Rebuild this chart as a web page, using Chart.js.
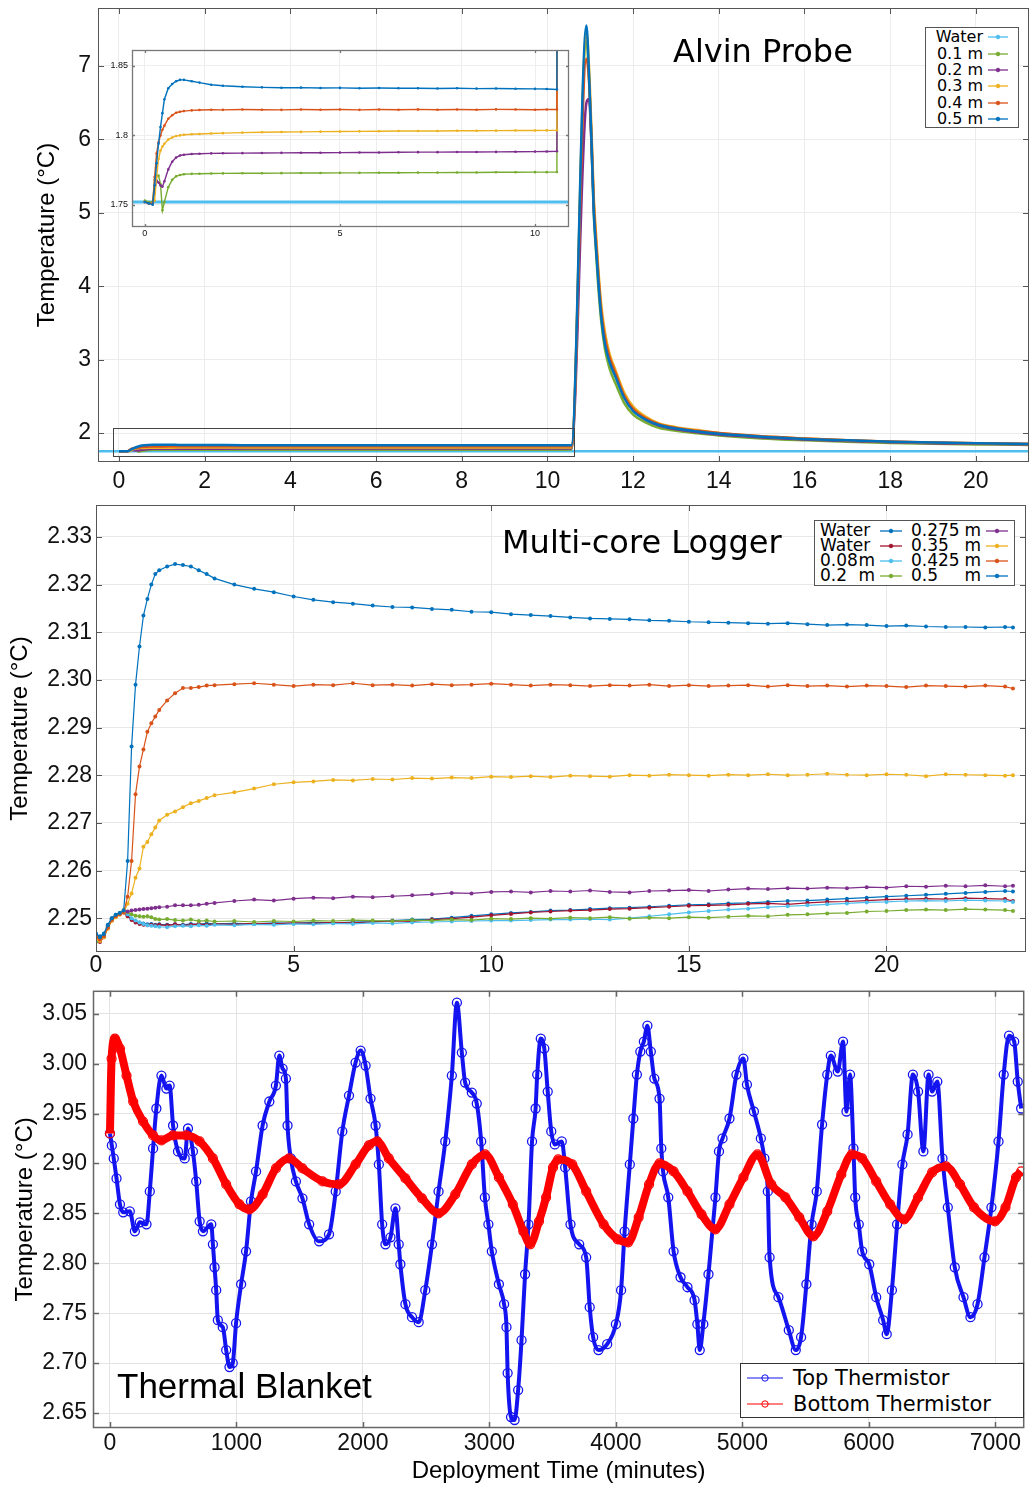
<!DOCTYPE html>
<html>
<head>
<meta charset="utf-8">
<script src="https://cdn.jsdelivr.net/npm/chart.js@4.4.0/dist/chart.umd.min.js"></script>
<style>
body { margin: 0; background: #fff; }
#page { position: relative; width: 1030px; height: 1487px; overflow: hidden; background: #fff; }
canvas { position: absolute; }
.lbl { position: absolute; white-space: nowrap; color: #000; line-height: 1; }
.legend { position: absolute; background: #fff; border: 1px solid #555; color: #000; font-family: "DejaVu Sans", sans-serif; box-sizing: border-box; }
.row { display: flex; align-items: center; }
.row span { line-height: 1; }
</style>
</head>
<body>
<div id="page">
  <canvas id="alvin" width="1030" height="500" style="left:0;top:0"></canvas>
  <canvas id="inset" width="478" height="200" style="left:100px;top:42px"></canvas>
  <canvas id="mcl" width="1030" height="490" style="left:0;top:500px"></canvas>
  <canvas id="blanket" width="1030" height="502" style="left:0;top:985px"></canvas>
</div>
<script>
// ---------- Alvin Probe (minutes, degC) ----------
var alvinLabels = ['Water', '0.1 m', '0.2 m', '0.3 m', '0.4 m', '0.5 m'];
var alvinColors = ['#4DBEEE', '#77AC30', '#7E2F8E', '#EDB120', '#D95319', '#0072BD'];
var alvinXTicks = [0, 2, 4, 6, 8, 10, 12, 14, 16, 18, 20];
var alvinYTicks = [2, 3, 4, 5, 6, 7];
var insetXTicks = [0, 5, 10];
var insetYTicks = [1.75, 1.8, 1.85];

var waterTime = [-0.5, 21.3];
var waterTemp = [1.752, 1.752];

// before the probe was pulled out (also shown in the inset)
var preTime = [0, 0.1, 0.2, 0.25, 0.3, 0.35, 0.4, 0.45, 0.5, 0.6, 0.7, 0.8, 0.9, 1.0, 1.2, 1.4, 1.7, 2.0, 2.5, 3,
  3.5, 4, 4.5, 5, 5.5, 6, 6.5, 7, 7.5, 8, 8.5, 9, 9.5, 10, 10.3, 10.56];
var pre01 = [1.753, 1.752, 1.752, 1.768, 1.771, 1.771, 1.765, 1.746, 1.752, 1.7627, 1.768, 1.7705, 1.7715, 1.772, 1.7723, 1.7724, 1.7725, 1.7726, 1.7727, 1.7727,
  1.7728, 1.7729, 1.7729, 1.773, 1.773, 1.7731, 1.7731, 1.7732, 1.7732, 1.7733, 1.7733, 1.7734, 1.7734, 1.7735, 1.7735, 1.7736];
var pre02 = [1.752, 1.751, 1.751, 1.760, 1.7675, 1.766, 1.764, 1.763, 1.767, 1.7755, 1.781, 1.784, 1.7855, 1.786, 1.7866, 1.7868, 1.787, 1.7871, 1.7872, 1.7873,
  1.7874, 1.7875, 1.7875, 1.7876, 1.7877, 1.7877, 1.7878, 1.7879, 1.7879, 1.788, 1.788, 1.7881, 1.7882, 1.7883, 1.7884, 1.7886];
var pre03 = [1.752, 1.751, 1.751, 1.753, 1.770, 1.783, 1.789, 1.792, 1.794, 1.797, 1.7985, 1.7995, 1.800, 1.8005, 1.8008, 1.801, 1.8013, 1.8016, 1.802, 1.8022,
  1.8024, 1.8025, 1.8027, 1.8028, 1.8029, 1.803, 1.8031, 1.8031, 1.8032, 1.8033, 1.8033, 1.8034, 1.8035, 1.8035, 1.8036, 1.8037];
var pre04 = [1.752, 1.751, 1.751, 1.770, 1.787, 1.795, 1.800, 1.804, 1.807, 1.812, 1.8145, 1.8163, 1.817, 1.8175, 1.818, 1.8183, 1.8185, 1.8184, 1.8186, 1.8185,
  1.8184, 1.8186, 1.8185, 1.8186, 1.8184, 1.8186, 1.8185, 1.8187, 1.8185, 1.8186, 1.8185, 1.8187, 1.8186, 1.8185, 1.8186, 1.8186];
var pre05 = [1.752, 1.751, 1.750, 1.764, 1.780, 1.794, 1.806, 1.816, 1.826, 1.834, 1.837, 1.839, 1.840, 1.840, 1.839, 1.838, 1.8365, 1.8357, 1.835, 1.8346,
  1.8343, 1.8344, 1.8341, 1.8342, 1.834, 1.8341, 1.8339, 1.834, 1.8338, 1.8339, 1.8337, 1.8338, 1.8336, 1.8335, 1.8334, 1.833];

// frictional heating spike and decay
var spikeTime = [10.91, 10.97, 11.03, 11.08, 11.13, 11.18, 11.25, 11.34, 11.45, 11.6, 11.8, 12.0, 12.3, 12.6, 13, 13.5,
  14, 15, 16, 17, 18, 19, 20, 21, 21.3];
var spike01 = [7.35, 6.85, 5.9, 5.0, 4.5, 4.05, 3.55, 3.15, 2.88, 2.66, 2.4, 2.25, 2.14, 2.07, 2.03, 1.995,
  1.965, 1.925, 1.9, 1.88, 1.865, 1.853, 1.845, 1.84, 1.836];
var spike02 = [6.5, 6.55, 5.9, 5.1, 4.62, 4.2, 3.68, 3.28, 3.0, 2.77, 2.48, 2.31, 2.18, 2.1, 2.05, 2.01,
  1.98, 1.94, 1.91, 1.89, 1.875, 1.862, 1.853, 1.846, 1.843];
var spike03 = [7.45, 7.0, 6.1, 5.25, 4.75, 4.3, 3.78, 3.38, 3.08, 2.84, 2.54, 2.36, 2.22, 2.13, 2.08, 2.04,
  2.0, 1.955, 1.925, 1.9, 1.882, 1.87, 1.86, 1.852, 1.85];
var spike04 = [7.1, 6.8, 6.0, 5.15, 4.65, 4.22, 3.7, 3.3, 3.03, 2.8, 2.5, 2.33, 2.2, 2.12, 2.07, 2.03,
  2.0, 1.955, 1.925, 1.9, 1.885, 1.872, 1.862, 1.855, 1.852];
var spike05 = [7.55, 6.9, 5.95, 5.04, 4.55, 4.13, 3.62, 3.22, 2.97, 2.75, 2.47, 2.3, 2.18, 2.11, 2.06, 2.02,
  1.99, 1.95, 1.92, 1.9, 1.88, 1.87, 1.86, 1.855, 1.85];

// ---------- Multi-core Logger ----------
var mclLabels = ['Water', 'Water', '0.08 m', '0.2 m', '0.275 m', '0.35 m', '0.425 m', '0.5 m'];
var mclColors = ['#0072BD', '#A2142F', '#4DBEEE', '#77AC30', '#7E2F8E', '#EDB120', '#D95319', '#0072BD'];
var mclXTicks = [0, 5, 10, 15, 20];
var mclYTicks = [2.25, 2.26, 2.27, 2.28, 2.29, 2.30, 2.31, 2.32, 2.33];
var mclTime = [0, 0.1, 0.2, 0.3, 0.4, 0.5, 0.6, 0.7, 0.8, 0.9, 1.0, 1.1, 1.2, 1.3, 1.4, 1.5, 1.6,
  1.8, 2.0, 2.2, 2.4, 2.6, 2.8, 3.0,
  3.5, 4.0, 4.5, 5.0, 5.5, 6.0, 6.5, 7.0, 7.5, 8.0, 8.5, 9.0, 9.5, 10.0, 10.5, 11.0, 11.5, 12.0, 12.5, 13.0,
  13.5, 14.0, 14.5, 15.0, 15.5, 16.0, 16.5, 17.0, 17.5, 18.0, 18.5, 19.0, 19.5, 20.0, 20.5, 21.0, 21.5, 22.0, 22.5, 23.0,
  23.2];
var waterBlue = [2.2466, 2.2462, 2.2468, 2.2486, 2.2500, 2.2507, 2.2510, 2.2513, 2.2506, 2.2498, 2.2494, 2.2491, 2.2489, 2.2487, 2.2488, 2.2486, 2.2487,
  2.2486, 2.2487, 2.2486, 2.2488, 2.2487, 2.2489, 2.2488,
  2.2489, 2.2488, 2.2490, 2.2489, 2.2491, 2.2490, 2.2492, 2.2493, 2.2495, 2.2497, 2.2498, 2.2501, 2.2505, 2.2508, 2.2511, 2.2513, 2.2516, 2.2517, 2.2519, 2.2521,
  2.2522, 2.2524, 2.2526, 2.2528, 2.2529, 2.2531, 2.2532, 2.2534, 2.2536, 2.2537, 2.2539, 2.2541, 2.2543, 2.2545, 2.2547, 2.2549, 2.2551, 2.2553, 2.2555, 2.2557,
  2.2556];
var waterRed = [2.2455, 2.2450, 2.2460, 2.2480, 2.2496, 2.2504, 2.2509, 2.2512, 2.2504, 2.2496, 2.2491, 2.2488, 2.2486, 2.2485, 2.2486, 2.2485, 2.2486,
  2.2485, 2.2487, 2.2485, 2.2486, 2.2488, 2.2486, 2.2488,
  2.2487, 2.2489, 2.2488, 2.2490, 2.2489, 2.2491, 2.2490, 2.2492, 2.2494, 2.2493, 2.2497, 2.2499, 2.2502, 2.2506, 2.2509, 2.2512, 2.2514, 2.2516, 2.2517, 2.2519,
  2.2520, 2.2522, 2.2524, 2.2526, 2.2527, 2.2528, 2.2530, 2.2531, 2.2529, 2.2532, 2.2534, 2.2535, 2.2537, 2.2539, 2.2540, 2.2541, 2.2540, 2.2542, 2.2541, 2.2540,
  2.2536];
var core008 = [2.2452, 2.2456, 2.2464, 2.2482, 2.2498, 2.2505, 2.2510, 2.2514, 2.2508, 2.2500, 2.2495, 2.2491, 2.2488, 2.2485, 2.2484, 2.2483, 2.2482,
  2.2481, 2.2483, 2.2484, 2.2483, 2.2485, 2.2484, 2.2486,
  2.2485, 2.2487, 2.2486, 2.2488, 2.2487, 2.2489, 2.2488, 2.2490, 2.2489, 2.2491, 2.2492, 2.2493, 2.2494, 2.2495, 2.2495, 2.2496, 2.2497, 2.2497, 2.2498, 2.2497,
  2.2500, 2.2504, 2.2508, 2.2512, 2.2515, 2.2518, 2.2520, 2.2523, 2.2525, 2.2527, 2.2529, 2.2531, 2.2533, 2.2534, 2.2536, 2.2537, 2.2536, 2.2538, 2.2537, 2.2536,
  2.2534];
var core020 = [2.2450, 2.2458, 2.2465, 2.2483, 2.2498, 2.2506, 2.2511, 2.2517, 2.2513, 2.2508, 2.2505, 2.2504, 2.2503, 2.2504, 2.2502, 2.2498, 2.2497,
  2.2498, 2.2496, 2.2495, 2.2497, 2.2494, 2.2495, 2.2493,
  2.2494, 2.2492, 2.2494, 2.2493, 2.2495, 2.2494, 2.2496, 2.2495, 2.2494, 2.2496, 2.2495, 2.2497, 2.2496, 2.2499, 2.2498, 2.2500, 2.2499, 2.2501, 2.2500, 2.2502,
  2.2499, 2.2501, 2.2500, 2.2502, 2.2501, 2.2503, 2.2505, 2.2504, 2.2507, 2.2508, 2.2510, 2.2511, 2.2514, 2.2515, 2.2517, 2.2518, 2.2517, 2.2519, 2.2518, 2.2517,
  2.2515];
var core0275 = [2.2458, 2.2455, 2.2463, 2.2481, 2.2497, 2.2505, 2.2509, 2.2514, 2.2514, 2.2516, 2.2517, 2.2518, 2.2519, 2.2520, 2.2521, 2.2522, 2.2523,
  2.2524, 2.2527, 2.2527, 2.2527, 2.2528, 2.2530, 2.2532,
  2.2536, 2.2539, 2.2537, 2.2541, 2.2543, 2.2542, 2.2545, 2.2544, 2.2546, 2.2548, 2.2550, 2.2553, 2.2552, 2.2555, 2.2556, 2.2554, 2.2557, 2.2556, 2.2558, 2.2555,
  2.2554, 2.2557, 2.2558, 2.2559, 2.2557, 2.2560, 2.2562, 2.2561, 2.2563, 2.2562, 2.2564, 2.2563, 2.2565, 2.2564, 2.2567, 2.2566, 2.2568, 2.2567, 2.2569, 2.2567,
  2.2568];
var core035 = [2.2455, 2.2452, 2.2460, 2.2478, 2.2494, 2.2502, 2.2507, 2.2512, 2.2530, 2.2552, 2.2585, 2.2604, 2.2650, 2.2660, 2.2676, 2.2690, 2.2705,
  2.2717, 2.2724, 2.2733, 2.2741, 2.2746, 2.2752, 2.2758,
  2.2764, 2.2772, 2.2781, 2.2785, 2.2787, 2.2790, 2.2789, 2.2792, 2.2791, 2.2794, 2.2793, 2.2795, 2.2794, 2.2797, 2.2796, 2.2798, 2.2796, 2.2799, 2.2798, 2.2797,
  2.2800, 2.2799, 2.2801, 2.2800, 2.2799, 2.2801, 2.2800, 2.2802, 2.2800, 2.2801, 2.2803, 2.2801, 2.2800, 2.2802, 2.2801, 2.2798, 2.2802, 2.2801, 2.2800, 2.2799,
  2.2800];
var core0425 = [2.2462, 2.2455, 2.2462, 2.2480, 2.2496, 2.2504, 2.2508, 2.2512, 2.2545, 2.2620, 2.2760, 2.2818, 2.2854, 2.2891, 2.2909, 2.2923, 2.2937,
  2.2957, 2.2972, 2.2983, 2.2983, 2.2985, 2.2988, 2.2989,
  2.2991, 2.2993, 2.2990, 2.2987, 2.2990, 2.2989, 2.2993, 2.2989, 2.2990, 2.2988, 2.2991, 2.2989, 2.2990, 2.2992, 2.2990, 2.2988, 2.2990, 2.2989, 2.2987, 2.2989,
  2.2988, 2.2990, 2.2987, 2.2989, 2.2987, 2.2988, 2.2989, 2.2986, 2.2989, 2.2987, 2.2988, 2.2986, 2.2988, 2.2987, 2.2985, 2.2988, 2.2987, 2.2986, 2.2988, 2.2986,
  2.2982];
var core05 = [2.2468, 2.2460, 2.2467, 2.2485, 2.2500, 2.2507, 2.2511, 2.2516, 2.2620, 2.2860, 2.2990, 2.3070, 2.3135, 2.3170, 2.3200, 2.3222, 2.3230,
  2.3238, 2.3243, 2.3241, 2.3238, 2.3230, 2.3222, 2.3213,
  2.3200, 2.3191, 2.3184, 2.3175, 2.3168, 2.3163, 2.3160, 2.3156, 2.3153, 2.3152, 2.3149, 2.3147, 2.3143, 2.3142, 2.3138, 2.3136, 2.3134, 2.3131, 2.3129, 2.3128,
  2.3127, 2.3125, 2.3124, 2.3122, 2.3121, 2.3120, 2.3119, 2.3118, 2.3119, 2.3117, 2.3115, 2.3116, 2.3115, 2.3113, 2.3114, 2.3112, 2.3111, 2.3111, 2.3110, 2.3111,
  2.3110];

// ---------- Thermal Blanket (deployment minutes, degC) ----------
var blanketLabels = ['Top Thermistor', 'Bottom Thermistor'];
var blanketColors = ['#1414f0', '#ff0000'];
var blanketXTicks = [0, 1000, 2000, 3000, 4000, 5000, 6000, 7000];
var blanketYTicks = [2.65, 2.70, 2.75, 2.80, 2.85, 2.90, 2.95, 3.00, 3.05];
var topTime = [0, 15, 30, 52, 79, 105, 157, 197, 236, 289, 315, 341, 367, 407, 446, 472, 499, 538, 591, 617,
  656, 682, 709, 735, 801, 814, 827, 840, 853, 892, 919, 945, 971, 997, 1037, 1076, 1115, 1155, 1207, 1260,
  1312, 1339, 1365, 1391, 1404, 1430, 1470, 1522, 1575, 1654, 1732, 1785, 1837, 1890, 1942, 1982, 2021, 2060, 2100, 2126,
  2152, 2178, 2218, 2257, 2283, 2296, 2336, 2388, 2441, 2493, 2546, 2598, 2651, 2703, 2743, 2782, 2808, 2861, 2900, 2935,
  2964, 2992, 3019, 3075, 3116, 3135, 3144, 3171, 3199, 3227, 3254, 3282, 3309, 3337, 3365, 3378, 3406, 3434, 3461, 3489,
  3517, 3572, 3599, 3641, 3710, 3765, 3793, 3820, 3862, 3931, 4000, 4041, 4069, 4110, 4138, 4166, 4193, 4221, 4249, 4276,
  4304, 4345, 4359, 4373, 4414, 4456, 4511, 4566, 4622, 4644, 4663, 4691, 4732, 4787, 4815, 4843, 4898, 4953, 5008, 5036,
  5091, 5146, 5174, 5201, 5215, 5285, 5367, 5422, 5464, 5506, 5547, 5588, 5630, 5671, 5699, 5754, 5796, 5823, 5851, 5878,
  5892, 5920, 5947, 6003, 6058, 6113, 6141, 6182, 6223, 6265, 6306, 6348, 6389, 6431, 6472, 6500, 6541, 6582, 6624, 6679,
  6748, 6803, 6859, 6914, 6969, 7025, 7066, 7108, 7149, 7177, 7204];
var topTemp = [2.930, 2.918, 2.905, 2.885, 2.859, 2.851, 2.852, 2.832, 2.841, 2.839, 2.872, 2.915, 2.955, 2.988, 2.975, 2.978, 2.938, 2.912, 2.905, 2.935,
  2.912, 2.882, 2.842, 2.832, 2.839, 2.819, 2.796, 2.773, 2.743, 2.736, 2.713, 2.696, 2.700, 2.740, 2.779, 2.812, 2.862, 2.892, 2.938, 2.962,
  2.978, 3.008, 2.995, 2.985, 2.938, 2.905, 2.882, 2.865, 2.839, 2.822, 2.829, 2.872, 2.932, 2.968, 3.001, 3.013, 2.998, 2.965, 2.938, 2.899,
  2.839, 2.819, 2.826, 2.855, 2.819, 2.799, 2.759, 2.746, 2.741, 2.773, 2.819, 2.872, 2.922, 2.988, 3.061, 3.011, 2.981, 2.971, 2.960, 2.922,
  2.866, 2.839, 2.812, 2.779, 2.759, 2.736, 2.690, 2.646, 2.643, 2.673, 2.723, 2.789, 2.839, 2.922, 2.955, 2.989, 3.025, 3.015, 2.972, 2.932,
  2.919, 2.922, 2.896, 2.839, 2.819, 2.806, 2.756, 2.726, 2.713, 2.719, 2.739, 2.773, 2.832, 2.899, 2.945, 2.989, 3.012, 3.022, 3.038, 3.012,
  2.985, 2.965, 2.915, 2.892, 2.866, 2.812, 2.786, 2.776, 2.763, 2.739, 2.713, 2.739, 2.789, 2.866, 2.912, 2.925, 2.945, 2.989, 3.005, 2.979,
  2.952, 2.925, 2.905, 2.872, 2.806, 2.766, 2.733, 2.713, 2.726, 2.779, 2.839, 2.872, 2.939, 2.989, 3.008, 2.992, 3.022, 2.952, 2.989, 2.915,
  2.866, 2.839, 2.812, 2.799, 2.766, 2.743, 2.729, 2.773, 2.839, 2.899, 2.929, 2.989, 2.972, 2.912, 2.989, 2.972, 2.982, 2.905, 2.856, 2.796,
  2.766, 2.746, 2.759, 2.806, 2.856, 2.922, 2.989, 3.028, 3.022, 2.982, 2.955];
var bottomTime = [0, 13, 39, 79, 131, 184, 262, 341, 407, 499, 604, 709, 814, 919, 1024, 1102, 1207, 1312, 1417, 1522,
  1680, 1811, 1942, 2047, 2113, 2205, 2336, 2467, 2598, 2730, 2861, 2966, 3075, 3185, 3268, 3323, 3392, 3448, 3503, 3544,
  3655, 3765, 3903, 4014, 4097, 4180, 4262, 4345, 4456, 4566, 4677, 4787, 4898, 5008, 5119, 5229, 5340, 5450, 5561, 5671,
  5782, 5865, 5947, 6058, 6168, 6279, 6389, 6500, 6610, 6721, 6831, 6997, 7080, 7163, 7204];
var bottomTemp = [2.930, 3.005, 3.025, 3.015, 2.988, 2.962, 2.942, 2.928, 2.923, 2.928, 2.928, 2.922, 2.905, 2.879, 2.859, 2.854, 2.869, 2.895, 2.905, 2.895,
  2.882, 2.879, 2.899, 2.918, 2.922, 2.905, 2.885, 2.865, 2.850, 2.869, 2.899, 2.909, 2.886, 2.859, 2.832, 2.819, 2.842, 2.866, 2.896, 2.904,
  2.899, 2.872, 2.839, 2.824, 2.821, 2.846, 2.879, 2.900, 2.892, 2.872, 2.849, 2.834, 2.859, 2.886, 2.909, 2.879, 2.866, 2.846, 2.827, 2.852,
  2.889, 2.909, 2.905, 2.882, 2.859, 2.844, 2.866, 2.891, 2.897, 2.879, 2.856, 2.842, 2.856, 2.886, 2.892];

Chart.defaults.font.family = '"Liberation Sans", Arial, sans-serif';
Chart.defaults.color = '#000';
Chart.defaults.animation = false;

function pts(xs, ys) {
  return xs.map(function(x, i) { return {x: x, y: ys[i]}; });
}

function fixTicks(list) {
  return function(scale) {
    scale.ticks = list.map(function(v) { return {value: v}; });
  };
}

// MATLAB style box with inward ticks
var framePlugin = {
  id: 'frame',
  afterDatasetsDraw: function(chart, args, opts) {
    var a = chart.chartArea, ctx = chart.ctx;
    var len = opts.tick || 6;
    ctx.save();
    ctx.strokeStyle = opts.color || '#555';
    ctx.lineWidth = opts.width || 1;
    ctx.beginPath();
    chart.scales.x.ticks.forEach(function(t) {
      var p = Math.round(chart.scales.x.getPixelForValue(t.value)) + 0.5;
      ctx.moveTo(p, a.bottom); ctx.lineTo(p, a.bottom - len);
      ctx.moveTo(p, a.top); ctx.lineTo(p, a.top + len);
    });
    chart.scales.y.ticks.forEach(function(t) {
      var p = Math.round(chart.scales.y.getPixelForValue(t.value)) + 0.5;
      ctx.moveTo(a.left, p); ctx.lineTo(a.left + len, p);
      ctx.moveTo(a.right, p); ctx.lineTo(a.right - len, p);
    });
    ctx.stroke();
    ctx.strokeRect(a.left + 0.5, a.top + 0.5, a.right - a.left - 1, a.bottom - a.top - 1);
    ctx.restore();
  }
};

// rectangle showing the part that is magnified in the inset
var zoomBoxPlugin = {
  id: 'zoomBox',
  afterDatasetsDraw: function(chart, args, opts) {
    var x = chart.scales.x, y = chart.scales.y, ctx = chart.ctx;
    var x0 = x.getPixelForValue(opts.x0), x1 = x.getPixelForValue(opts.x1);
    var y0 = y.getPixelForValue(opts.y0), y1 = y.getPixelForValue(opts.y1);
    ctx.save();
    ctx.strokeStyle = '#444';
    ctx.lineWidth = 1;
    ctx.strokeRect(Math.round(x0) + 0.5, Math.round(y1) + 0.5, Math.round(x1 - x0), Math.round(y0 - y1));
    ctx.restore();
  }
};

function axis(min, max, list, fmt, size, pad, fit, isX, gridColor) {
  var s = {
    type: 'linear', min: min, max: max,
    afterBuildTicks: fixTicks(list),
    grid: {color: gridColor, drawTicks: false},
    border: {display: false},
    ticks: {font: {size: size}, padding: pad, color: '#111', autoSkip: false, maxRotation: 0, callback: fmt}
  };
  s.afterFit = function(sc) {
    if (isX) sc.height = fit; else sc.width = fit;
    // keep the plot box exactly where it is, labels may hang over
    sc.paddingTop = 0; sc.paddingBottom = 0; sc.paddingLeft = 0; sc.paddingRight = 0;
  };
  return s;
}

function str(v) { return String(v); }
function two(v) { return v.toFixed(2); }

// ---- panel 1: Alvin Probe ----
var alvinPre = [pre01, pre02, pre03, pre04, pre05];
var alvinSpike = [spike01, spike02, spike03, spike04, spike05];
var alvinTime = preTime.concat(spikeTime);
var mainSets = [], insetSets = [];
mainSets.push({label: alvinLabels[0], data: pts(waterTime, waterTemp), borderColor: alvinColors[0], borderWidth: 2.5, pointRadius: 0});
insetSets.push({label: alvinLabels[0], data: pts(waterTime, waterTemp), borderColor: alvinColors[0], borderWidth: 3, pointRadius: 0});
for (var i = 1; i < alvinLabels.length; i++) {
  var d = pts(alvinTime, alvinPre[i - 1].concat(alvinSpike[i - 1]));
  mainSets.push({label: alvinLabels[i], data: d, borderColor: alvinColors[i], borderWidth: 2.5, pointRadius: 0,
    cubicInterpolationMode: 'monotone'});
  insetSets.push({label: alvinLabels[i], data: d, borderColor: alvinColors[i], backgroundColor: alvinColors[i],
    borderWidth: 1.4, pointRadius: 1.3, pointBorderWidth: 0});
}
mainSets.reverse();
insetSets.reverse();

var yTitle = {display: true, text: 'Temperature (°C)', font: {size: 24}, color: '#000'};

var alvinY = axis(1.605, 7.79, alvinYTicks, str, 23, 7, 98, false, '#ececec');
alvinY.title = Object.assign({}, yTitle, {padding: {top: 33, bottom: 0}});

new Chart(document.getElementById('alvin'), {
  type: 'line',
  data: {datasets: mainSets},
  options: {
    responsive: false,
    layout: {padding: {top: 8, right: 1, left: 0, bottom: 0}},
    scales: {
      x: axis(-0.49, 21.24, alvinXTicks, str, 23, 6, 38, true, '#ececec'),
      y: alvinY
    },
    plugins: {legend: {display: false}, tooltip: {enabled: false},
      frame: {color: '#555', width: 1, tick: 6},
      zoomBox: {x0: -0.14, x1: 10.62, y0: 1.69, y1: 2.07}}
  },
  plugins: [framePlugin, zoomBoxPlugin]
});

new Chart(document.getElementById('inset'), {
  type: 'line',
  data: {datasets: insetSets},
  options: {
    responsive: false,
    layout: {padding: {top: 8, right: 9, left: 0, bottom: 0}},
    scales: {
      x: axis(-0.33, 10.87, insetXTicks, str, 9, 1, 15, true, '#eeeeee'),
      y: axis(1.734, 1.8615, insetYTicks, str, 9, 4, 32, false, '#eeeeee')
    },
    plugins: {legend: {display: false}, tooltip: {enabled: false},
      frame: {color: '#777', width: 1.3, tick: 3}}
  },
  plugins: [framePlugin]
});

// ---- panel 2: Multi-core Logger ----
var mclSeries = [waterBlue, waterRed, core008, core020, core0275, core035, core0425, core05];
var mclSets = mclSeries.map(function(s, i) {
  return {label: mclLabels[i], data: pts(mclTime, s), borderColor: mclColors[i], backgroundColor: mclColors[i],
    borderWidth: 1.2, pointRadius: 2, pointBorderWidth: 0};
}).reverse();

var mclY = axis(2.2429, 2.3367, mclYTicks, two, 23, 4, 96, false, '#e8e8e8');
mclY.title = Object.assign({}, yTitle, {padding: {top: 6, bottom: 0}});

new Chart(document.getElementById('mcl'), {
  type: 'line',
  data: {datasets: mclSets},
  options: {
    responsive: false,
    layout: {padding: {top: 5, right: 1, left: 0, bottom: 0}},
    scales: {
      x: axis(0, 23.53, mclXTicks, str, 23, 0, 38, true, '#e8e8e8'),
      y: mclY
    },
    plugins: {legend: {display: false}, tooltip: {enabled: false},
      frame: {color: '#555', width: 1, tick: 6}}
  },
  plugins: [framePlugin]
});

// ---- panel 3: Thermal Blanket ----
var blanketX = axis(-134, 7228, blanketXTicks, str, 23, 2, 59, true, '#e3e3e3');
blanketX.title = {display: true, text: 'Deployment Time (minutes)', font: {size: 24}, color: '#000', padding: {top: 0, bottom: 1}};
var blanketY = axis(2.635, 3.0729, blanketYTicks, two, 23, 6, 93, false, '#e3e3e3');
blanketY.title = Object.assign({}, yTitle, {padding: {top: 11, bottom: 0}});

new Chart(document.getElementById('blanket'), {
  type: 'line',
  data: {datasets: [
    {label: blanketLabels[0], data: pts(topTime, topTemp), borderColor: blanketColors[0], borderWidth: 4,
      cubicInterpolationMode: 'monotone', pointRadius: 4.5, pointBorderWidth: 1.3,
      pointBorderColor: blanketColors[0], pointBackgroundColor: 'rgba(0,0,0,0)', order: 1},
    {label: blanketLabels[1], data: pts(bottomTime, bottomTemp), borderColor: blanketColors[1], borderWidth: 8,
      cubicInterpolationMode: 'monotone', pointRadius: 4.5, pointBorderWidth: 1.2,
      pointBorderColor: blanketColors[1], pointBackgroundColor: 'rgba(0,0,0,0)', order: 0}
  ]},
  options: {
    responsive: false,
    layout: {padding: {top: 3, right: 2, left: 0, bottom: 0}},
    scales: {x: blanketX, y: blanketY},
    plugins: {legend: {display: false}, tooltip: {enabled: false},
      frame: {color: '#666', width: 1.5, tick: 6}}
  },
  plugins: [framePlugin]
});

// ---- titles and legends (html) ----
var page = document.getElementById('page');

function addText(txt, left, top, size, family) {
  var el = document.createElement('div');
  el.className = 'lbl';
  el.textContent = txt;
  el.style.left = left + 'px';
  el.style.top = top + 'px';
  el.style.fontSize = size + 'px';
  el.style.fontFamily = family;
  page.appendChild(el);
}

function sample(color, w, r, lw, ring) {
  return '<svg width="' + w + '" height="12" style="display:block">' +
    '<line x1="1" y1="6" x2="' + (w - 1) + '" y2="6" stroke="' + color + '" stroke-width="' + lw + '"/>' +
    '<circle cx="' + (w / 2) + '" cy="6" r="' + r + '" fill="' + (ring ? 'none' : color) + '" stroke="' + color + '" stroke-width="1"/></svg>';
}

function splitLabel(lab) {
  var k = lab.lastIndexOf(' ');
  if (k < 0) return '<span>' + lab + '</span>';
  return '<span>' + lab.slice(0, k) + '</span><span>' + lab.slice(k + 1) + '</span>';
}

addText('Alvin Probe', 673, 35, 32, '"DejaVu Sans"');
addText('Multi-core Logger', 502, 526, 32, '"DejaVu Sans"');
addText('Thermal Blanket', 117, 1368, 35, '"Liberation Sans"');

// legend 1
var lg1 = document.createElement('div');
lg1.className = 'legend';
lg1.style.cssText = 'left:925px;top:27px;width:94px;height:101px;font-size:16px;padding-top:1px;';
alvinLabels.forEach(function(lab, i) {
  lg1.innerHTML += '<div class="row" style="height:16.4px"><span style="width:57px;text-align:right">' + lab +
    '</span><span style="width:4px"></span>' + sample(alvinColors[i], 22, 1.8, 1.3, false) + '</div>';
});
page.appendChild(lg1);

// legend 2 (two columns, column-major)
var lg2 = document.createElement('div');
lg2.className = 'legend';
lg2.style.cssText = 'left:814px;top:520px;width:201px;height:66px;font-size:17px;padding-top:2px;' +
  'display:grid;grid-template-columns:96px 100px;grid-template-rows:repeat(4,15px);grid-auto-flow:column;';
mclLabels.forEach(function(lab, i) {
  var w = i < 4 ? 55 : 70;
  var pl = i < 4 ? 5 : 0;
  lg2.innerHTML += '<div class="row" style="padding-left:' + pl + 'px"><div style="display:flex;justify-content:space-between;width:' + w + 'px">' +
    splitLabel(lab) + '</div><span style="width:4px"></span>' + sample(mclColors[i], 24, 1.8, 1.3, false) + '</div>';
});
page.appendChild(lg2);

// legend 3
var lg3 = document.createElement('div');
lg3.className = 'legend';
lg3.style.cssText = 'left:740px;top:1363px;width:284px;height:55px;font-size:21px;padding-top:1px;border-color:#333;';
blanketLabels.forEach(function(lab, i) {
  lg3.innerHTML += '<div class="row" style="height:26px;padding-left:5px">' + sample(blanketColors[i], 38, 3.2, 1.2, true) +
    '<span style="width:9px"></span><span>' + lab + '</span></div>';
});
page.appendChild(lg3);
</script>
</body>
</html>
